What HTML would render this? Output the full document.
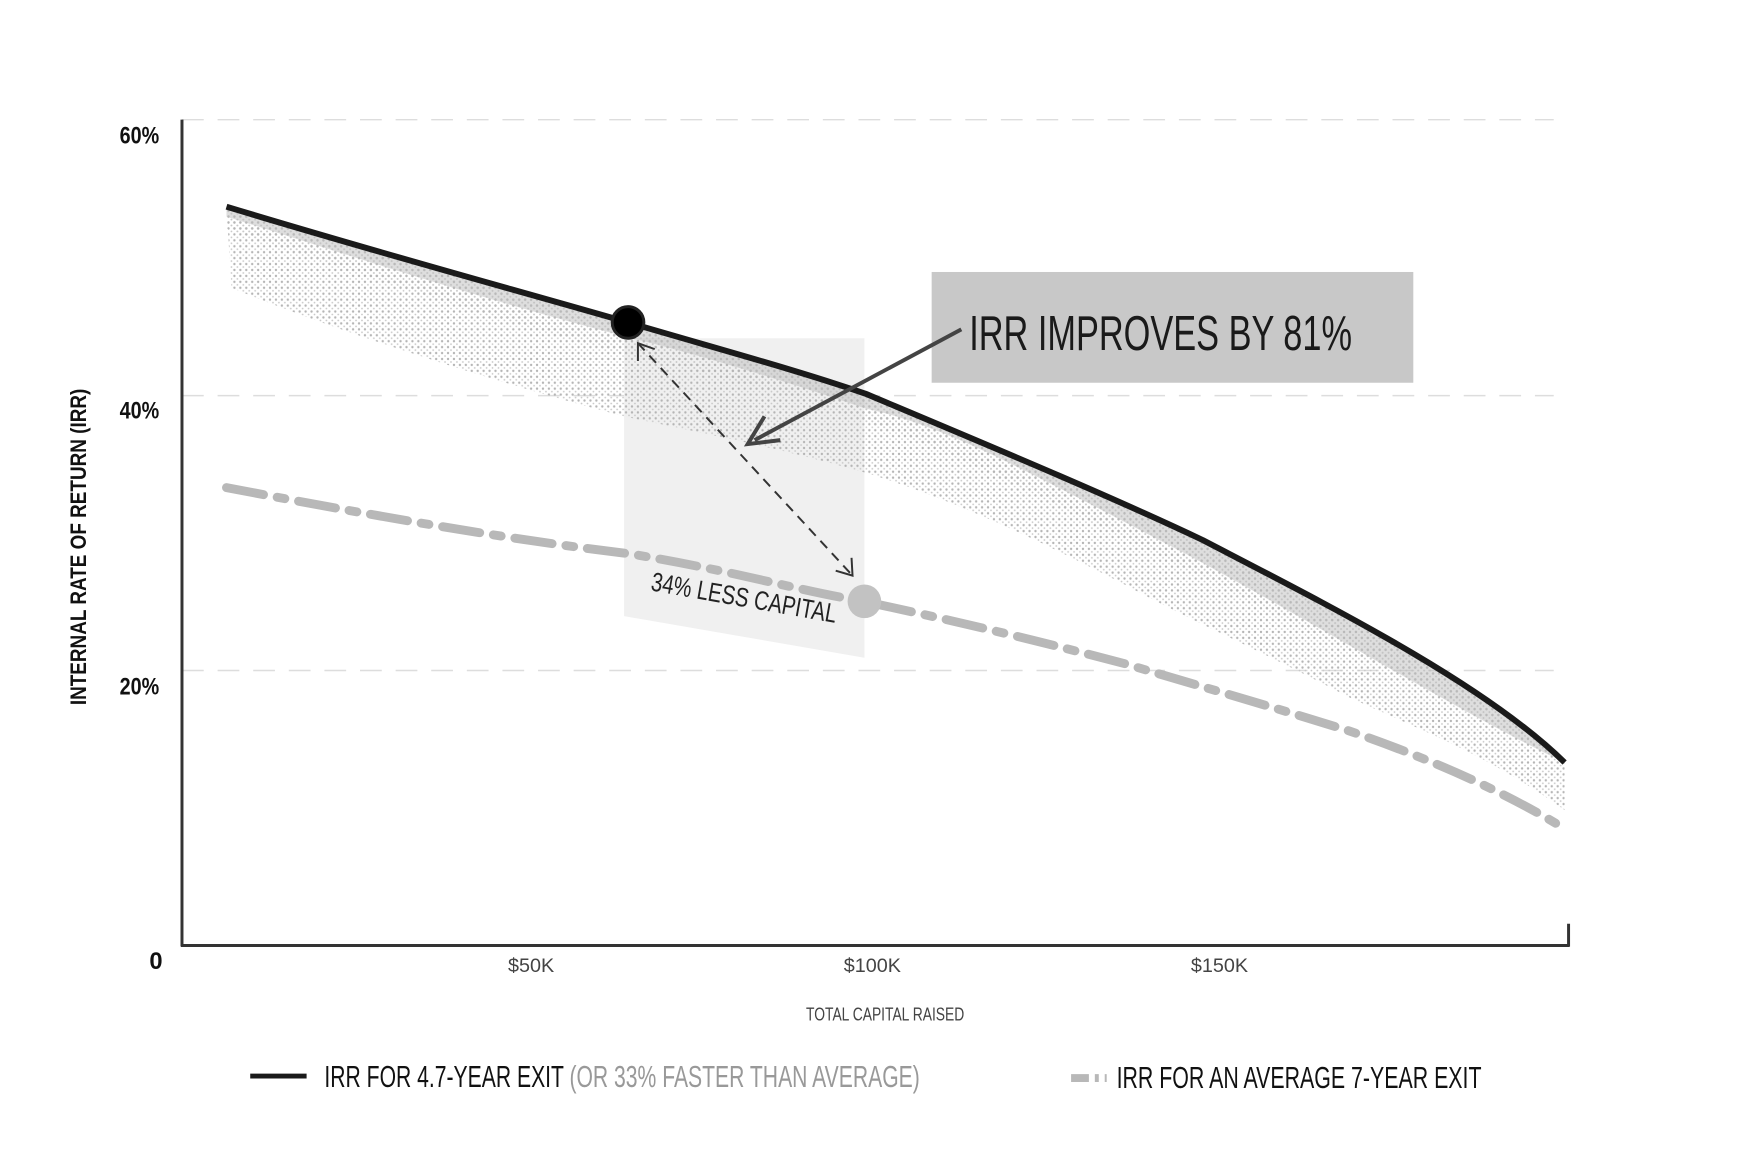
<!DOCTYPE html>
<html><head><meta charset="utf-8"><style>
html,body{margin:0;padding:0;background:#fff;}
svg{display:block;}
text{font-family:"Liberation Sans Narrow","Liberation Sans",sans-serif;}
</style></head><body>
<svg width="1760" height="1172" viewBox="0 0 1760 1172" xmlns="http://www.w3.org/2000/svg">
<defs>
<pattern id="dots" width="6" height="6" patternUnits="userSpaceOnUse">
<circle cx="2" cy="2" r="1.2" fill="#b5b5b5"/>
<circle cx="5" cy="5" r="0.9" fill="#c8c8c8"/>
</pattern>
</defs>
<g transform="translate(1,1) scale(0.989)">
<!-- grid -->
<g stroke="#ddd" stroke-width="1.5" stroke-dasharray="22 14">
<line x1="183" y1="120" x2="1570" y2="120"/>
<line x1="183" y1="399" x2="1570" y2="399"/>
<line x1="183" y1="677" x2="1570" y2="677"/>
</g>
<!-- light box -->
<polygon points="630,341 873,341 873,664 630,622" fill="#f0f0f0"/>
<!-- shaded area -->
<path d="M228,208 C400,260 520,292 634,325 C740,356 800,372 874,397 C1000,450 1120,500 1215,545 C1340,610 1500,690 1581,770 L1581,818 C1500,760 1430,735 1363,704 C1280,660 1200,625 1136,590 C1030,535 950,500 874,477 C780,450 700,435 630,420 C480,380 330,330 233,290 Z" fill="url(#dots)"/>
<path d="M228,208 C400,260 520,292 634,325 C740,356 800,372 874,397 C1000,450 1120,500 1215,545 C1340,610 1500,690 1581,770 C1480,715 1330,640 1200,575 C1060,505 960,455 874,425 C780,392 700,372 634,358 C480,318 330,265 228,230 Z" fill="url(#dots)" opacity="0.9"/>
<path d="M228,208 C400,260 520,292 634,325 C740,356 800,372 874,397 C1000,450 1120,500 1215,545 C1340,610 1500,690 1581,770 C1480,722 1330,630 1200,560 C1060,488 960,430 874,412 C780,380 700,356 634,340 C480,300 330,250 228,218 Z" fill="#bdbdbd" opacity="0.5"/>
<!-- axes -->
<line x1="183" y1="120" x2="183" y2="956" stroke="#333" stroke-width="3"/>
<line x1="182" y1="955" x2="1586" y2="955" stroke="#333" stroke-width="3"/>
<line x1="1585" y1="933" x2="1585" y2="956" stroke="#333" stroke-width="3"/>
<!-- gray dash-dot -->
<path d="M228,492 C400,525 520,545 636,559 C750,578 800,595 872,607 C980,630 1060,650 1136,670 C1220,695 1290,715 1363,738 C1450,768 1520,800 1578,835" fill="none" stroke="#b8b8b8" stroke-width="9" stroke-dasharray="38 14 8 14" stroke-linecap="round"/>
<!-- black curve -->
<path d="M228,208 C400,260 520,292 634,325 C740,356 800,372 874,397 C1000,450 1120,500 1215,545 C1340,610 1500,690 1581,770" fill="none" stroke="#1a1a1a" stroke-width="6"/>
<!-- dashed arrow -->
<line x1="644" y1="346" x2="861" y2="581" stroke="#333" stroke-width="2" stroke-dasharray="10 7"/>
<polyline points="644,364 644,346 661,352" fill="none" stroke="#333" stroke-width="2"/>
<polyline points="844,576 861,581 860,563" fill="none" stroke="#333" stroke-width="2"/>
<!-- dots -->
<circle cx="634" cy="325" r="16" fill="#000" stroke="#222" stroke-width="3"/>
<circle cx="873" cy="607" r="17" fill="#c2c2c2"/>
<!-- annotation box -->
<rect x="941" y="274" width="487" height="112" fill="#c8c8c8"/>
<text x="979" y="353" font-size="50" fill="#1a1a1a" textLength="387" lengthAdjust="spacingAndGlyphs">IRR IMPROVES BY 81%</text>
<line x1="971" y1="332" x2="762" y2="444" stroke="#444" stroke-width="4"/>
<polyline points="788,444 755,448 772,420" fill="none" stroke="#444" stroke-width="4"/>
<text x="653" y="612" font-size="27" fill="#222" transform="rotate(10 747 622)" textLength="190" lengthAdjust="spacingAndGlyphs">34% LESS CAPITAL</text>
<!-- y labels -->
<g font-size="24" font-weight="bold" fill="#111">
<text x="120" y="144" textLength="40" lengthAdjust="spacingAndGlyphs">60%</text>
<text x="120" y="422" textLength="40" lengthAdjust="spacingAndGlyphs">40%</text>
<text x="120" y="701" textLength="40" lengthAdjust="spacingAndGlyphs">20%</text>
<text x="150" y="979">0</text>
</g>
<text transform="translate(86,712) rotate(-90)" font-size="22" font-weight="bold" fill="#111" textLength="320" lengthAdjust="spacingAndGlyphs">INTERNAL RATE OF RETURN (IRR)</text>
<!-- x labels -->
<g font-size="20" fill="#444" text-anchor="middle">
<text x="536" y="982">$50K</text>
<text x="881" y="982">$100K</text>
<text x="1232" y="982">$150K</text>
<text x="894" y="1031" font-size="19" textLength="160" lengthAdjust="spacingAndGlyphs">TOTAL CAPITAL RAISED</text>
</g>
<!-- legend -->
<line x1="252" y1="1087" x2="309" y2="1087" stroke="#1a1a1a" stroke-width="5"/>
<text x="327" y="1098" font-size="31" textLength="602" lengthAdjust="spacingAndGlyphs"><tspan fill="#111">IRR FOR 4.7-YEAR EXIT </tspan><tspan fill="#999">(OR 33% FASTER THAN AVERAGE)</tspan></text>
<line x1="1082" y1="1089" x2="1118" y2="1089" stroke="#b8b8b8" stroke-width="8" stroke-dasharray="18 6 4 6"/>
<text x="1128" y="1099" font-size="31" fill="#111" textLength="369" lengthAdjust="spacingAndGlyphs">IRR FOR AN AVERAGE 7-YEAR EXIT</text>
</g>
</svg>
</body></html>
